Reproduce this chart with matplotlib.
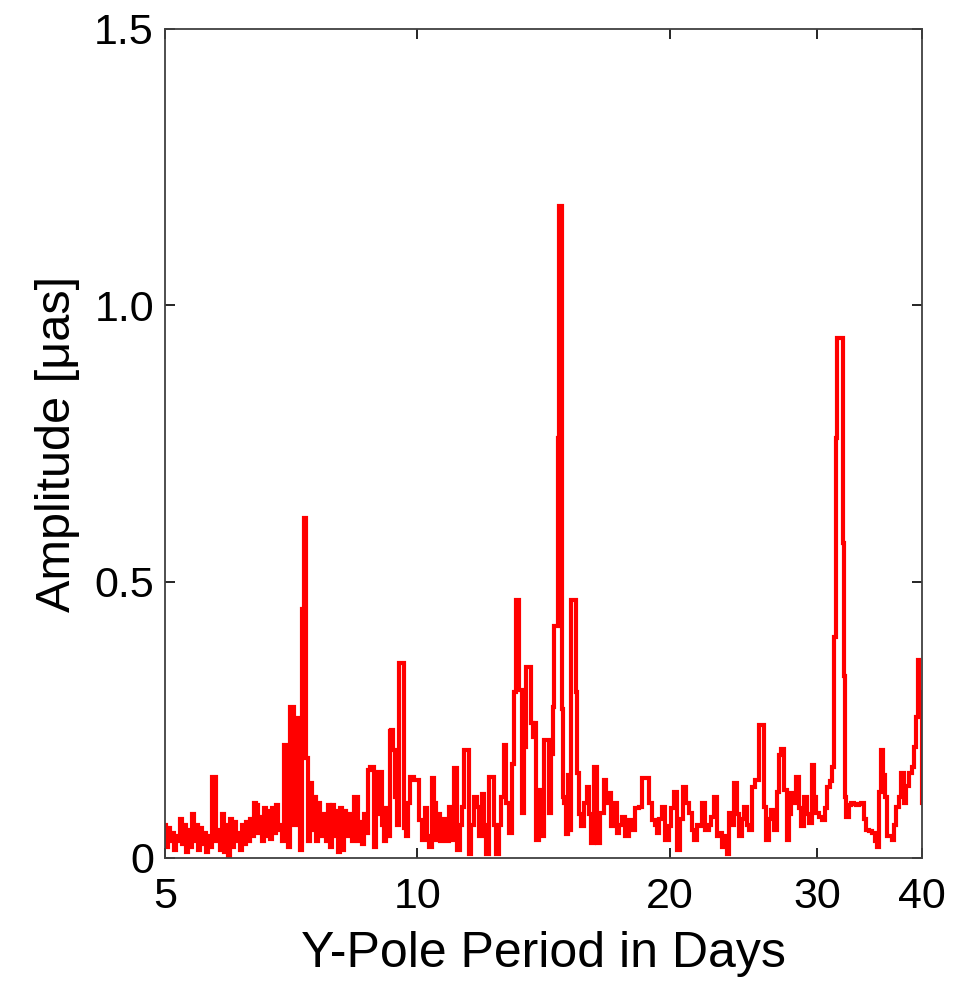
import matplotlib
matplotlib.use("Agg")
import matplotlib.pyplot as plt
from matplotlib.ticker import FixedLocator, NullLocator

plt.rcParams['font.family'] = ['Liberation Sans', 'DejaVu Sans']

# period in days
period = [
    5.000, 5.027, 5.055, 5.083, 5.111, 5.139, 5.167, 5.196, 5.224, 5.253,
    5.282, 5.311, 5.341, 5.371, 5.400, 5.430, 5.460, 5.490, 5.520, 5.551,
    5.581, 5.612, 5.643, 5.674, 5.705, 5.736, 5.768, 5.800, 5.832, 5.864,
    5.896, 5.929, 5.961, 5.994, 6.027, 6.060, 6.093, 6.127, 6.161, 6.195,
    6.229, 6.263, 6.298, 6.332, 6.368, 6.403, 6.438, 6.473, 6.509, 6.545,
    6.581, 6.617, 6.654, 6.690, 6.727, 6.764, 6.802, 6.839, 6.877, 6.915,
    6.953, 6.991, 7.030, 7.068, 7.107, 7.146, 7.186, 7.225, 7.265, 7.305,
    7.325, 7.365, 7.385, 7.426, 7.467, 7.508, 7.550, 7.591, 7.633, 7.675,
    7.717, 7.760, 7.803, 7.846, 7.889, 7.932, 7.976, 8.020, 8.064, 8.109,
    8.154, 8.199, 8.244, 8.289, 8.335, 8.381, 8.427, 8.473, 8.520, 8.567,
    8.614, 8.662, 8.709, 8.757, 8.805, 8.854, 8.903, 8.952, 9.001, 9.051,
    9.101, 9.151, 9.201, 9.252, 9.277, 9.329, 9.380, 9.432, 9.484, 9.536,
    9.615, 9.668, 9.721, 9.774, 9.828, 9.882, 9.937, 9.991, 10.074, 10.158,
    10.242, 10.298, 10.355, 10.440, 10.498, 10.556, 10.615, 10.673, 10.732, 10.791,
    10.851, 10.940, 11.031, 11.091, 11.122, 11.183, 11.276, 11.338, 11.400, 11.463,
    11.558, 11.622, 11.718, 11.815, 11.880, 11.978, 12.044, 12.111, 12.211, 12.312,
    12.380, 12.449, 12.551, 12.620, 12.724, 12.794, 12.900, 13.007, 13.079, 13.151,
    13.188, 13.260, 13.370, 13.443, 13.517, 13.629, 13.705, 13.742, 13.818, 13.894,
    14.009, 14.125, 14.203, 14.320, 14.399, 14.479, 14.519, 14.598, 14.679, 14.719,
    14.759, 14.841, 14.882, 14.923, 15.005, 15.088, 15.129, 15.212, 15.296, 15.423,
    15.465, 15.550, 15.636, 15.722, 15.852, 15.983, 16.072, 16.160, 16.294, 16.339,
    16.429, 16.611, 16.748, 16.840, 16.979, 17.073, 17.214, 17.356, 17.452, 17.596,
    17.791, 17.938, 18.086, 18.286, 18.437, 18.590, 18.796, 18.951, 19.108, 19.266,
    19.372, 19.479, 19.640, 19.857, 20.022, 20.132, 20.298, 20.466, 20.636, 20.864,
    20.979, 21.152, 21.328, 21.445, 21.622, 21.742, 21.922, 22.164, 22.347, 22.470,
    22.656, 22.844, 22.970, 23.160, 23.287, 23.480, 23.610, 23.805, 23.936, 24.134,
    24.267, 24.468, 24.603, 24.806, 24.943, 25.149, 25.428, 25.638, 25.849, 25.922,
    26.136, 26.352, 26.497, 26.717, 26.938, 27.086, 27.236, 27.461, 27.688, 27.841,
    27.995, 28.226, 28.382, 28.616, 28.774, 29.012, 29.252, 29.413, 29.657, 29.820,
    29.985, 30.233, 30.483, 30.736, 30.905, 31.160, 31.332, 31.504, 31.591, 31.765,
    32.117, 32.205, 32.294, 32.382, 32.560, 32.830, 33.011, 33.284, 33.467, 33.744,
    33.930, 34.211, 34.400, 34.684, 34.970, 35.260, 35.454, 35.650, 35.847, 36.045,
    36.144, 36.443, 36.644, 36.947, 37.150, 37.356, 37.664, 37.872, 38.185, 38.396,
    38.713, 39.033, 39.249, 39.466, 39.575, 39.792, 39.900, 40.000,
]

# amplitude in micro-arcseconds
amplitude = [
    0.060, 0.020, 0.055, 0.030, 0.045, 0.015, 0.040, 0.030, 0.070, 0.025,
    0.060, 0.010, 0.050, 0.020, 0.080, 0.030, 0.060, 0.015, 0.055, 0.025,
    0.045, 0.010, 0.040, 0.020, 0.147, 0.147, 0.030, 0.050, 0.015, 0.080,
    0.010, 0.060, 0.002, 0.070, 0.020, 0.065, 0.030, 0.045, 0.015, 0.060,
    0.025, 0.065, 0.030, 0.070, 0.040, 0.100, 0.095, 0.045, 0.075, 0.030,
    0.090, 0.040, 0.085, 0.035, 0.090, 0.045, 0.095, 0.050, 0.060, 0.030,
    0.204, 0.204, 0.020, 0.273, 0.273, 0.060, 0.253, 0.253, 0.015, 0.450,
    0.615, 0.615, 0.180, 0.030, 0.135, 0.050, 0.110, 0.030, 0.100, 0.070,
    0.040, 0.080, 0.030, 0.095, 0.020, 0.095, 0.040, 0.085, 0.010, 0.090,
    0.015, 0.085, 0.040, 0.045, 0.080, 0.030, 0.110, 0.110, 0.030, 0.065,
    0.025, 0.080, 0.045, 0.160, 0.165, 0.165, 0.020, 0.080, 0.155, 0.155,
    0.060, 0.030, 0.090, 0.040, 0.230, 0.231, 0.195, 0.110, 0.060, 0.353,
    0.353, 0.055, 0.040, 0.100, 0.147, 0.147, 0.141, 0.141, 0.069, 0.033,
    0.090, 0.040, 0.020, 0.144, 0.100, 0.033, 0.080, 0.030, 0.039, 0.070,
    0.030, 0.093, 0.033, 0.162, 0.162, 0.014, 0.060, 0.093, 0.195, 0.195,
    0.008, 0.060, 0.110, 0.093, 0.040, 0.116, 0.060, 0.008, 0.147, 0.147,
    0.060, 0.008, 0.060, 0.110, 0.204, 0.100, 0.045, 0.170, 0.300, 0.467,
    0.467, 0.304, 0.081, 0.200, 0.346, 0.346, 0.244, 0.219, 0.244, 0.033,
    0.123, 0.040, 0.213, 0.213, 0.081, 0.189, 0.273, 0.420, 0.420, 0.760,
    1.180, 1.180, 0.270, 0.111, 0.100, 0.044, 0.150, 0.050, 0.467, 0.467,
    0.300, 0.153, 0.080, 0.057, 0.099, 0.128, 0.080, 0.027, 0.165, 0.165,
    0.027, 0.081, 0.141, 0.100, 0.117, 0.057, 0.099, 0.045, 0.060, 0.075,
    0.039, 0.069, 0.050, 0.090, 0.093, 0.144, 0.144, 0.099, 0.069, 0.060,
    0.045, 0.070, 0.093, 0.033, 0.057, 0.090, 0.120, 0.014, 0.070, 0.129,
    0.100, 0.081, 0.050, 0.033, 0.060, 0.057, 0.099, 0.051, 0.060, 0.075,
    0.111, 0.039, 0.045, 0.020, 0.040, 0.008, 0.081, 0.060, 0.135, 0.080,
    0.039, 0.070, 0.093, 0.060, 0.051, 0.129, 0.141, 0.240, 0.240, 0.093,
    0.033, 0.070, 0.087, 0.051, 0.120, 0.186, 0.198, 0.123, 0.033, 0.080,
    0.117, 0.100, 0.147, 0.090, 0.057, 0.111, 0.080, 0.063, 0.168, 0.110,
    0.081, 0.075, 0.069, 0.090, 0.129, 0.140, 0.165, 0.400, 0.760, 0.940,
    0.940, 0.570, 0.330, 0.111, 0.075, 0.095, 0.099, 0.097, 0.096, 0.098,
    0.099, 0.070, 0.051, 0.048, 0.045, 0.030, 0.020, 0.120, 0.195, 0.150,
    0.111, 0.039, 0.040, 0.033, 0.060, 0.093, 0.110, 0.153, 0.099, 0.130,
    0.153, 0.165, 0.200, 0.255, 0.358, 0.300, 0.290, 0.100,
]

x_ticks = [5, 10, 20, 30, 40]
x_tick_labels = ['5', '10', '20', '30', '40']
y_ticks = [0, 0.5, 1.0, 1.5]
y_tick_labels = ['0', '0.5', '1.0', '1.5']

fig = plt.figure(figsize=(9.66, 9.82), dpi=100)
ax = fig.add_axes([0.1708, 0.1263, 0.7837, 0.8442])

# step drawing gives the blocky vertical look of the dense original spectrum
ax.plot(period, amplitude, color='#ff0000', linewidth=3.0,
        drawstyle='steps-mid', solid_joinstyle='miter')

ax.set_xscale('log')
ax.set_xlim(5, 40)
ax.set_ylim(0, 1.5)
ax.xaxis.set_major_locator(FixedLocator(x_ticks))
ax.xaxis.set_minor_locator(NullLocator())
ax.set_xticklabels(x_tick_labels)
ax.set_yticks(y_ticks)
ax.set_yticklabels(y_tick_labels)

ax.tick_params(axis='both', which='major', direction='in', length=7, width=1.2,
               top=True, right=True, labelsize=31, colors='black')
ax.tick_params(axis='x', pad=14)
ax.tick_params(axis='y', pad=8)
for s in ax.spines.values():
    s.set_linewidth(1.3)
    s.set_color('#404040')

ax.set_xlabel('Y-Pole Period in Days', fontsize=36, labelpad=10)
ax.set_ylabel('Amplitude [\u03bcas]', fontsize=35, labelpad=10)

fig.savefig('out.png', dpi=100, facecolor='white')
